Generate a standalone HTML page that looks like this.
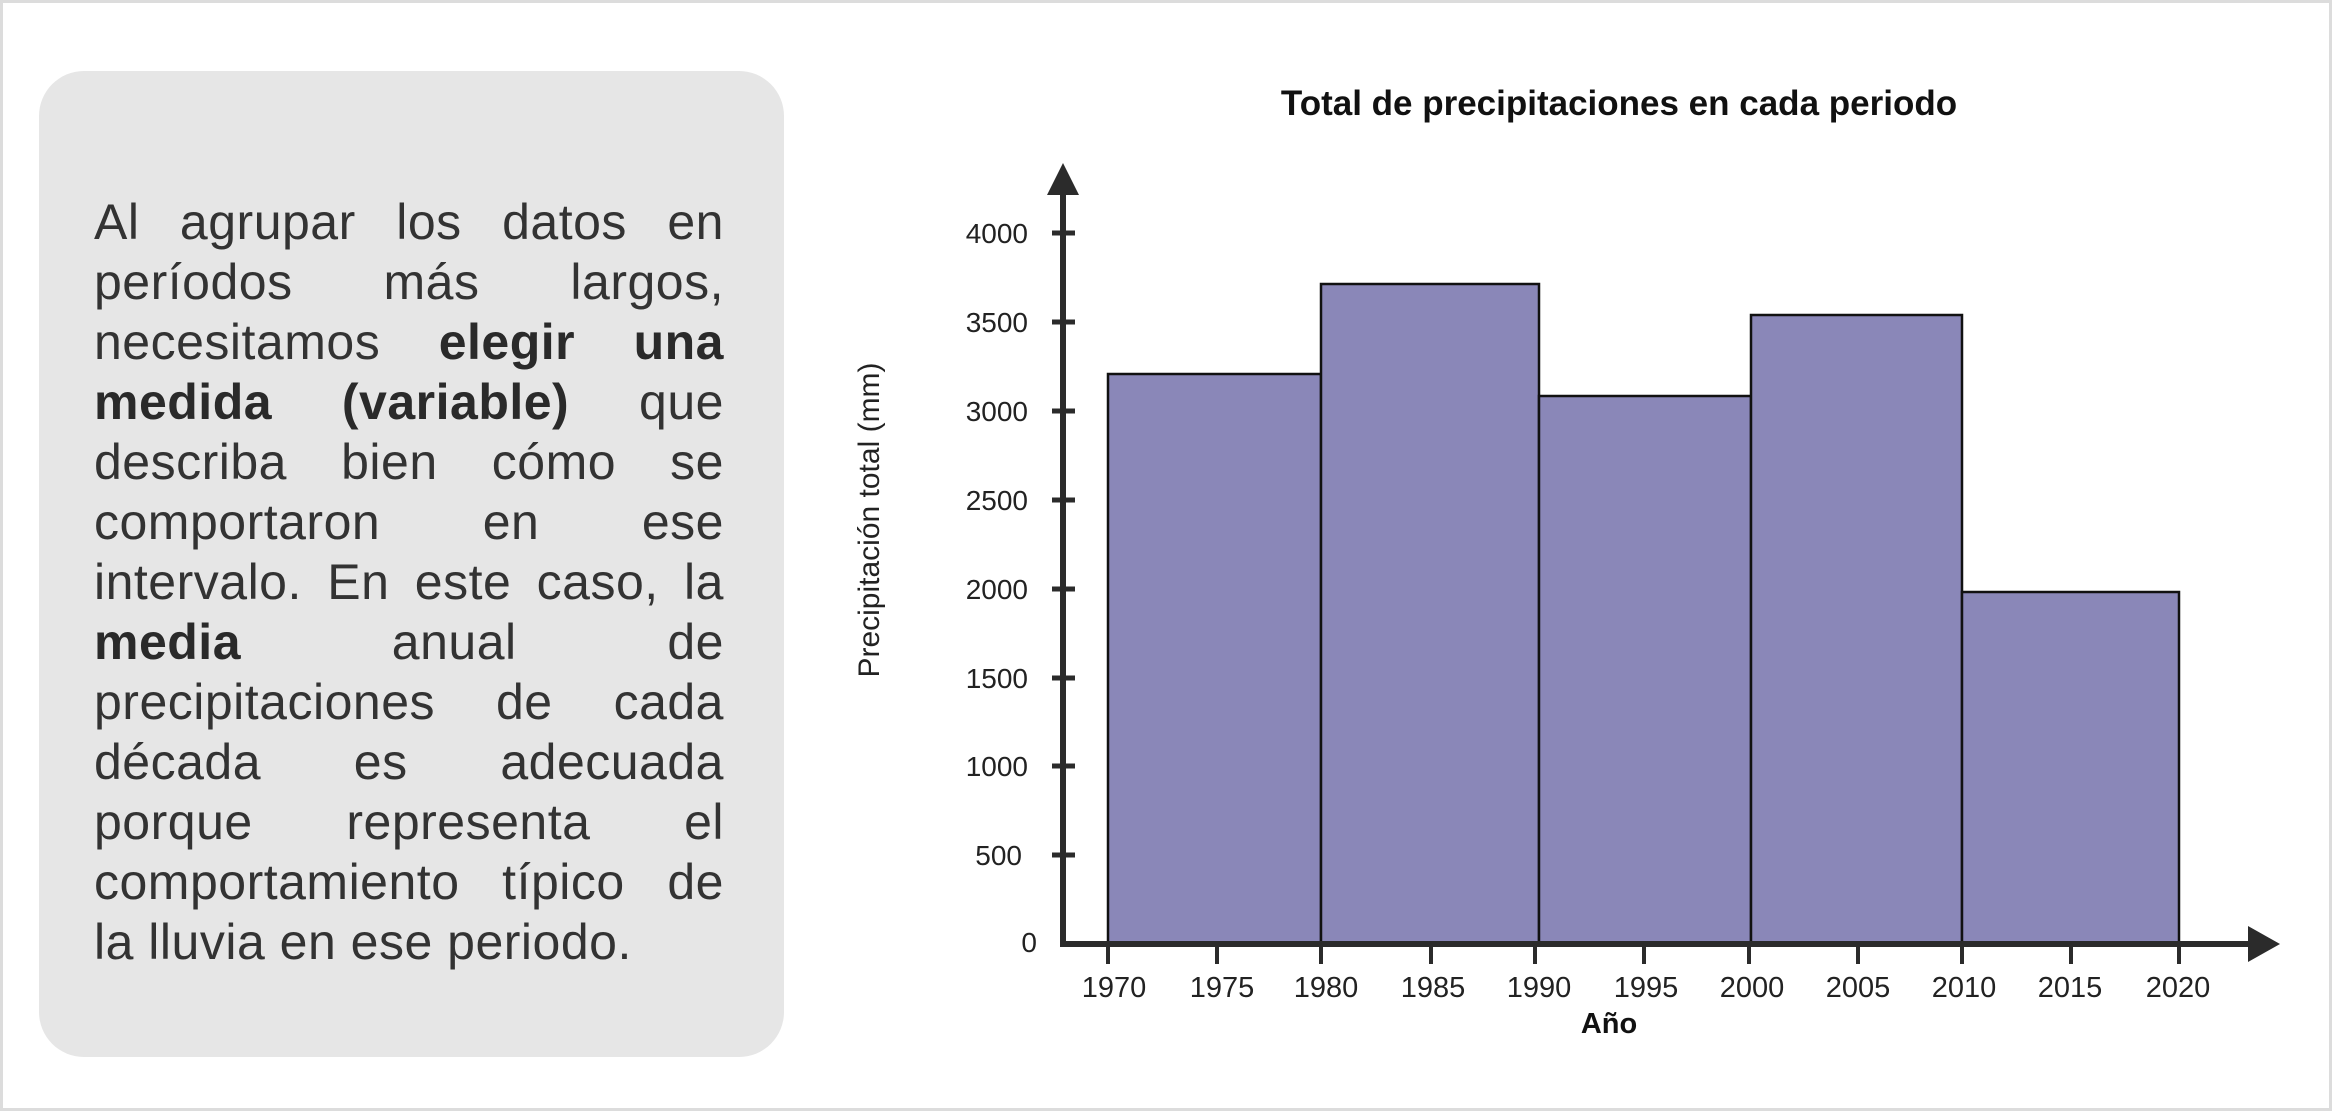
<!DOCTYPE html>
<html><head><meta charset="utf-8"><style>
html,body{margin:0;padding:0}
body{width:2332px;height:1111px;position:relative;background:#fff;overflow:hidden;font-family:"Liberation Sans",sans-serif}
.frame{position:absolute;left:0;top:0;width:2326px;height:1105px;border:3px solid #dcdcdc}
.panel{position:absolute;left:39px;top:71px;width:745px;height:986px;background:#e6e6e6;border-radius:45px}
.txt{position:absolute;left:94px;top:192px;width:630px;font-size:50px;line-height:60px;color:#333;letter-spacing:0.5px}
.txt div{white-space:nowrap;display:flex;justify-content:space-between}
.txt div.l{display:block}
b{font-weight:bold;color:#2a2a2a}
</style></head><body>
<div class="frame"></div>
<div class="panel"></div>
<div class="txt">
<div><span>Al</span><span>agrupar</span><span>los</span><span>datos</span><span>en</span></div>
<div><span>períodos</span><span>más</span><span>largos,</span></div>
<div><span>necesitamos</span><b>elegir</b><b>una</b></div>
<div><b>medida</b><b>(variable)</b><span>que</span></div>
<div><span>describa</span><span>bien</span><span>cómo</span><span>se</span></div>
<div><span>comportaron</span><span>en</span><span>ese</span></div>
<div><span>intervalo.</span><span>En</span><span>este</span><span>caso,</span><span>la</span></div>
<div><b>media</b><span>anual</span><span>de</span></div>
<div><span>precipitaciones</span><span>de</span><span>cada</span></div>
<div><span>década</span><span>es</span><span>adecuada</span></div>
<div><span>porque</span><span>representa</span><span>el</span></div>
<div><span>comportamiento</span><span>típico</span><span>de</span></div>
<div class="l">la lluvia en ese periodo.</div>
</div>
<svg style="position:absolute;left:0;top:0" width="2332" height="1111" font-family="Liberation Sans, sans-serif">
<text x="1619" y="115" text-anchor="middle" font-size="35" font-weight="bold" fill="#111">Total de precipitaciones en cada periodo</text>
<text transform="translate(879,520) rotate(-90)" text-anchor="middle" font-size="30" fill="#222">Precipitación total (mm)</text>
<g fill="#8a87b8" stroke="#111" stroke-width="2.5">
<rect x="1108" y="374" width="213" height="570"/>
<rect x="1321" y="284" width="218" height="660"/>
<rect x="1539" y="396" width="212" height="548"/>
<rect x="1751" y="315" width="211" height="629"/>
<rect x="1962" y="592" width="217" height="352"/>
</g>
<g stroke="#2b2b2b" stroke-width="6">
<line x1="1063" y1="190" x2="1063" y2="947"/>
<line x1="1060" y1="944" x2="2255" y2="944"/>
</g>
<polygon points="1063,163 1047,195 1079,195" fill="#2b2b2b"/>
<polygon points="2280,944 2248,926 2248,962" fill="#2b2b2b"/>
<g stroke="#2b2b2b" stroke-width="5">
<line x1="1052" y1="233" x2="1075" y2="233"/><line x1="1052" y1="322" x2="1075" y2="322"/>
<line x1="1052" y1="411" x2="1075" y2="411"/><line x1="1052" y1="500" x2="1075" y2="500"/>
<line x1="1052" y1="589" x2="1075" y2="589"/><line x1="1052" y1="678" x2="1075" y2="678"/>
<line x1="1052" y1="766" x2="1075" y2="766"/><line x1="1052" y1="855" x2="1075" y2="855"/>
</g>
<g stroke="#2b2b2b" stroke-width="4">
<line x1="1108" y1="944" x2="1108" y2="964"/><line x1="1217" y1="944" x2="1217" y2="964"/>
<line x1="1321" y1="944" x2="1321" y2="964"/><line x1="1431" y1="944" x2="1431" y2="964"/>
<line x1="1535" y1="944" x2="1535" y2="964"/><line x1="1644" y1="944" x2="1644" y2="964"/>
<line x1="1749" y1="944" x2="1749" y2="964"/><line x1="1858" y1="944" x2="1858" y2="964"/>
<line x1="1962" y1="944" x2="1962" y2="964"/><line x1="2071" y1="944" x2="2071" y2="964"/>
<line x1="2179" y1="944" x2="2179" y2="964"/>
</g>
<g font-size="28" fill="#222" text-anchor="end">
<text x="1028" y="243">4000</text><text x="1028" y="332">3500</text><text x="1028" y="421">3000</text>
<text x="1028" y="510">2500</text><text x="1028" y="599">2000</text><text x="1028" y="688">1500</text>
<text x="1028" y="776">1000</text><text x="1022" y="865">500</text><text x="1037" y="952">0</text>
</g>
<g font-size="29" fill="#222" text-anchor="middle">
<text x="1114" y="997">1970</text><text x="1222" y="997">1975</text><text x="1326" y="997">1980</text>
<text x="1433" y="997">1985</text><text x="1539" y="997">1990</text><text x="1646" y="997">1995</text>
<text x="1752" y="997">2000</text><text x="1858" y="997">2005</text><text x="1964" y="997">2010</text>
<text x="2070" y="997">2015</text><text x="2178" y="997">2020</text>
</g>
<text x="1609" y="1033" text-anchor="middle" font-size="29" font-weight="bold" fill="#111">Año</text>
</svg>
</body></html>
